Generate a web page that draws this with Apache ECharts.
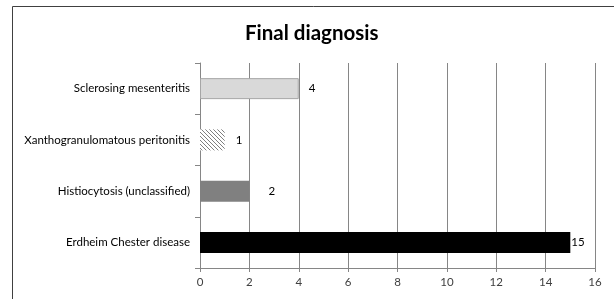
<!DOCTYPE html>
<html><head><meta charset="utf-8">
<script src="https://cdn.jsdelivr.net/npm/echarts@6/dist/echarts.min.js"></script>
<style>html,body{margin:0;padding:0;background:#fff}#c{width:614px;height:299px}</style>
</head><body><div id="c"></div>
<script>
var categories = ['Sclerosing mesenteritis', 'Xanthogranulomatous peritonitis', 'Histiocytosis (unclassified)', 'Erdheim Chester disease'];
var values = [4, 1, 2, 15];
var xTicks = [0, 2, 4, 6, 8, 10, 12, 14, 16];
var titleText = 'Final diagnosis';

var pc = document.createElement('canvas');
pc.width = 4; pc.height = 4;
var g = pc.getContext('2d');
g.fillStyle = '#fff'; g.fillRect(0, 0, 4, 4);
g.strokeStyle = '#7f7f7f'; g.lineWidth = 1;
g.beginPath();
g.moveTo(-1, -1); g.lineTo(5, 5);
g.moveTo(-1, 3); g.lineTo(1, 5);
g.moveTo(3, -1); g.lineTo(5, 1);
g.stroke();

var styles = [
  {color: '#d9d9d9', borderColor: '#a6a6a6', borderWidth: 1, dist: 10},
  {color: {image: pc, repeat: 'repeat'}, borderColor: 'transparent', borderWidth: 0, dist: 11},
  {color: '#808080', borderColor: '#808080', borderWidth: 0, dist: 19},
  {color: '#000000', borderColor: '#000', borderWidth: 0, dist: 1}
];

var data = values.map(function (v, i) {
  return {
    value: v,
    itemStyle: {color: styles[i].color, borderColor: styles[i].borderColor, borderWidth: styles[i].borderWidth},
    label: {distance: styles[i].dist}
  };
});

var chart = echarts.init(document.getElementById('c'), null, {renderer: 'canvas'});
chart.setOption({
  animation: false,
  backgroundColor: '#fff',
  title: {
    text: titleText, left: 240, top: 18,
    textStyle: {fontFamily: 'Lato', fontWeight: 'bold', fontSize: 20.5, color: '#000'}
  },
  graphic: [{
    type: 'rect', shape: {x: 12.5, y: 6.5, width: 700, height: 400},
    style: {fill: 'none', stroke: '#404040', lineWidth: 1}, silent: true
  }],
  grid: {left: 200, right: 19, top: 63, bottom: 31, containLabel: false},
  xAxis: {
    type: 'value', min: 0, max: 16, interval: 2,
    axisLine: {show: true, lineStyle: {color: '#868686'}},
    axisTick: {show: true, length: 4, lineStyle: {color: '#868686'}},
    splitLine: {show: true, lineStyle: {color: '#868686', width: 1}},
    axisLabel: {fontFamily: 'Lato', fontSize: 11.5, color: '#404040', margin: 8,
      formatter: function (v) { return xTicks.indexOf(v) >= 0 ? String(v) : ''; }}
  },
  yAxis: {
    type: 'category', data: categories, inverse: true,
    axisLine: {show: true, lineStyle: {color: '#868686'}},
    axisTick: {show: true, length: 5, lineStyle: {color: '#868686'}},
    axisLabel: {fontFamily: 'Lato', fontSize: 11.5, color: '#000', margin: 10}
  },
  series: [{
    type: 'bar', data: data, barWidth: 21,
    label: {show: true, position: 'right', fontFamily: 'Lato', fontSize: 11.5, color: '#000'}
  }]
});
</script></body></html>
